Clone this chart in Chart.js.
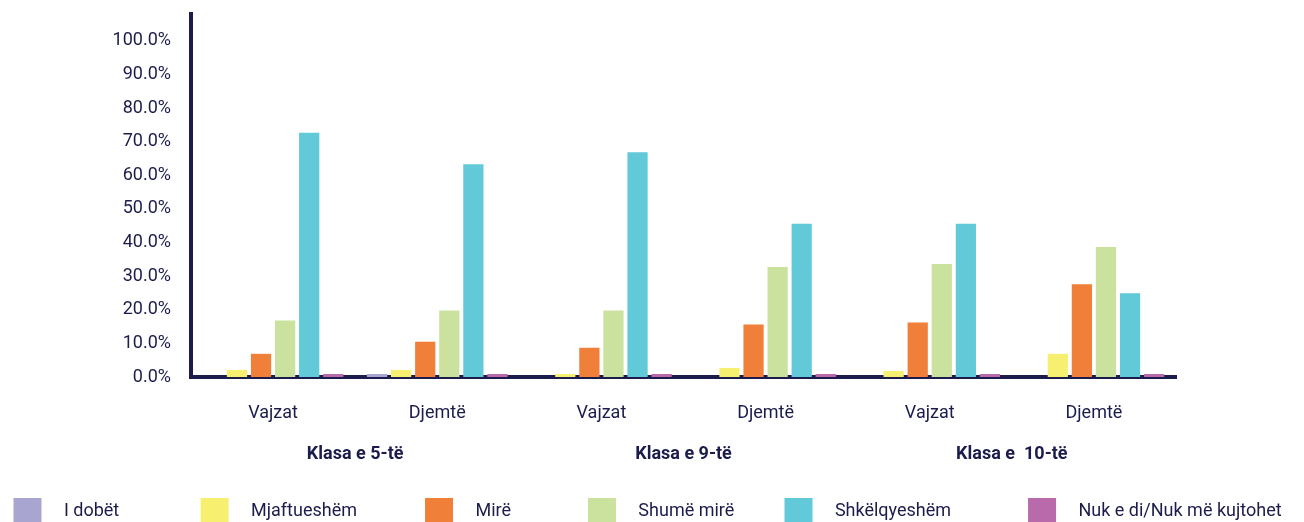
<!DOCTYPE html>
<html>
<head>
<meta charset="utf-8">
<script src="https://cdn.jsdelivr.net/npm/chart.js@4"></script>
<style>
  html, body { margin: 0; padding: 0; background: #fff; }
  #wrap { width: 1304px; height: 522px; }
</style>
</head>
<body>
<div id="wrap"><canvas id="gradesChart"></canvas></div>
<script>
// categories
const groups = ["Vajzat", "Djemtë", "Vajzat", "Djemtë", "Vajzat", "Djemtë"]
const grades = ["Klasa e 5-të", "Klasa e 9-të", "Klasa e  10-të"]
const yTicks = [0, 10, 20, 30, 40, 50, 60, 70, 80, 90, 100]

// series values (%)
const iDobet = [0.0, 0.9, 0.0, 0.0, 0.0, 0.0]
const mjaftueshem = [2.1, 2.1, 0.9, 2.7, 1.8, 6.9]
const mire = [6.9, 10.5, 8.7, 15.6, 16.2, 27.6]
const shumeMire = [16.8, 19.8, 19.8, 32.7, 33.6, 38.7]
const shkelqyeshem = [72.7, 63.3, 66.9, 45.6, 45.6, 24.9]
const nukEDi = [0.9, 0.9, 0.9, 0.9, 0.9, 0.9]

const navy = "#1c1c4c"
const font = "Roboto"

const series = [
  { label: "I dobët", data: iDobet, color: "#a8a6d1" },
  { label: "Mjaftueshëm", data: mjaftueshem, color: "#f7ef6f" },
  { label: "Mirë", data: mire, color: "#f07f39" },
  { label: "Shumë mirë", data: shumeMire, color: "#cae29e" },
  { label: "Shkëlqyeshëm", data: shkelqyeshem, color: "#62c9d9" },
  { label: "Nuk e di/Nuk më kujtohet", data: nukEDi, color: "#b86aab" },
]

// the legend in the original is spread out like table cells, pad with spaces
const legendGap = [16, 13, 15, 9, 15, 2]

new Chart(document.getElementById("gradesChart"), {
  type: "bar",
  data: {
    labels: groups,
    datasets: series.map((s) => ({
      label: s.label,
      data: s.data,
      backgroundColor: s.color,
      borderWidth: 0,
      categoryPercentage: 0.88,
      barPercentage: 0.84,
    })),
  },
  options: {
    responsive: true,
    maintainAspectRatio: false,
    animation: false,
    layout: { padding: { top: 14, right: 0, left: 0, bottom: -12 } },
    plugins: {
      tooltip: { enabled: false },
      legend: {
        position: "bottom",
        labels: {
          color: navy,
          font: { family: font, size: 18 },
          boxWidth: 28,
          boxHeight: 26,
          padding: 10,
          generateLabels: (chart) =>
            Chart.defaults.plugins.legend.labels.generateLabels(chart).map((item, i) => {
              item.text = "   " + item.text + " ".repeat(legendGap[i])
              item.lineWidth = 0
              return item
            }),
        },
      },
    },
    scales: {
      x: {
        grid: { display: false, drawTicks: false },
        border: { display: true, color: navy, width: 4 },
        ticks: { color: navy, font: { family: font, size: 18 }, padding: 26 },
        afterFit: (scale) => { scale.height = 58 },
      },
      x2: {
        type: "category",
        labels: grades,
        position: "bottom",
        grid: { display: false, drawTicks: false },
        border: { display: false },
        ticks: { color: navy, font: { family: font, size: 18, weight: "bold" }, padding: 9 },
        afterFit: (scale) => { scale.height = 53 },
      },
      y: {
        min: 0,
        max: 108,
        grid: { display: false, drawTicks: false },
        border: { display: true, color: navy, width: 4 },
        afterBuildTicks: (scale) => { scale.ticks = yTicks.map((v) => ({ value: v })) },
        afterFit: (scale) => {
          scale.width = 191
          scale.paddingTop = 0
          scale.paddingBottom = 0
        },
        ticks: {
          color: navy,
          font: { family: font, size: 18 },
          padding: 20,
          autoSkip: false,
          callback: (value) => value.toFixed(1) + "%",
        },
      },
      // empty right-hand margin so the legend can still use the full width
      yRight: {
        position: "right",
        grid: { display: false, drawTicks: false },
        border: { display: false },
        ticks: { display: false },
        afterFit: (scale) => {
          scale.width = 128
          scale.paddingTop = 0
          scale.paddingBottom = 0
        },
      },
    },
  },
})
</script>
</body>
</html>
